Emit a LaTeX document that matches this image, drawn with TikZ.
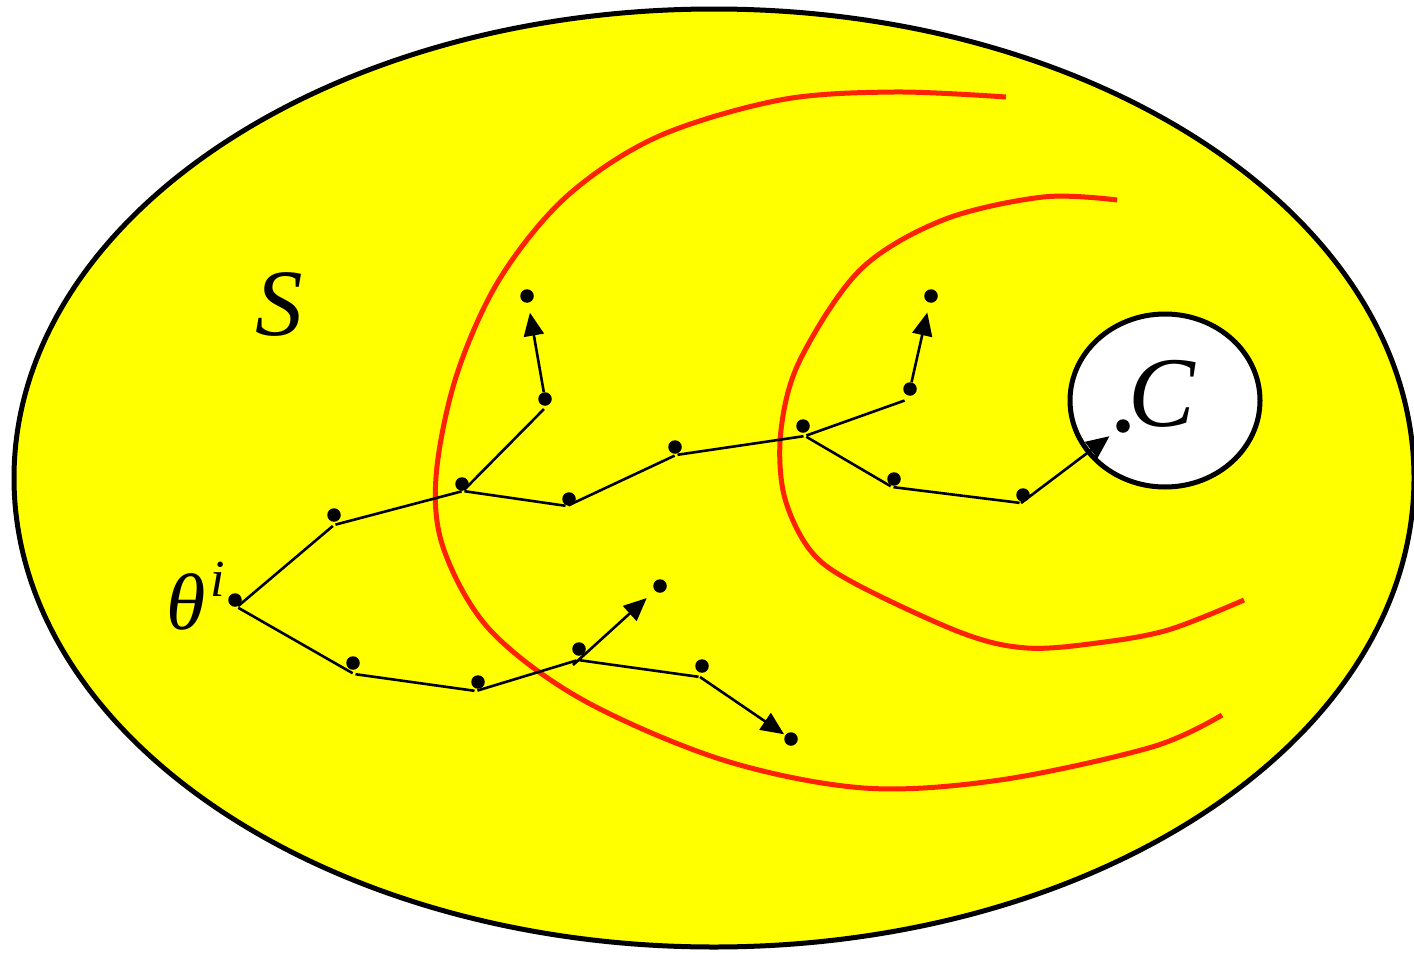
\documentclass[tikz,border=0pt]{standalone}
\usepackage{fontspec}
\setmainfont{Liberation Serif}
\usetikzlibrary{arrows.meta,calc}
\definecolor{fieldyellow}{RGB}{255,255,0}
\definecolor{curvered}{RGB}{255,34,0}
\tikzset{
  dot/.style={circle,fill=black,inner sep=0pt,minimum size=13.5pt},
  seg/.style={line width=2.6pt,shorten <=1.5pt,shorten >=1.5pt},
  arr/.style={line width=2.6pt,-{Triangle[length=23pt,width=20pt]}},
  level/.style={curvered,line width=5pt},
  label/.style={inner sep=0pt}
}
\begin{document}
\begin{tikzpicture}[x=1pt,y=-1pt]
\useasboundingbox (0,0) rectangle (1414,953);
% region S
\filldraw[fill=fieldyellow,draw=black,line width=5pt] (714,478) ellipse [x radius=700,y radius=469];
% target set C
\filldraw[fill=white,draw=black,line width=5pt] (1165,400.5) ellipse [x radius=95,y radius=86.5];
% level curves
\draw[level] plot[smooth,tension=0.55] coordinates {(1006,97) (894,92) (780,100) (657,137) (566,197) (499,280) (456,377) (436,477) (444,550) (490,630) (583,700) (723,760) (864,788) (1000,780) (1152,747) (1222,715)};
\draw[level] plot[smooth,tension=0.55] coordinates {(1117,200) (1043,197) (943,220) (860,270) (800,360) (781,430) (784,495) (810,550) (854,583) (962,633) (1027,648) (1097,643) (1168,630) (1244,600)};
% dots
\node[dot] (T) at (235,600) {};
\node[dot] (A1) at (334,515) {};
\node[dot] (A2) at (462,484) {};
\node[dot] (A3) at (545,399) {};
\node[dot] (A4) at (527,296) {};
\node[dot] (A5) at (569,499) {};
\node[dot] (A6) at (675,447) {};
\node[dot] (A7) at (803,426) {};
\node[dot] (A8) at (910,389) {};
\node[dot] (A9) at (931,296) {};
\node[dot] (A10) at (894,479) {};
\node[dot] (A11) at (1023,495) {};
\node[dot] (A12) at (1123,426) {};
\node[dot] (B1) at (353,663) {};
\node[dot] (B2) at (478,682) {};
\node[dot] (B3) at (579,649) {};
\node[dot] (B4) at (660,586) {};
\node[dot] (B5) at (702,666) {};
\node[dot] (B6) at (791,739) {};
% feet of the path segments
\coordinate (Tf) at (237,607);
\coordinate (A1f) at (334,525);
\coordinate (A2f) at (463,491);
\coordinate (A3f) at (545,408);
\coordinate (A5f) at (567,506);
\coordinate (A6f) at (676,455);
\coordinate (A7f) at (805,436);
\coordinate (A8f) at (906,400);
\coordinate (A10f) at (892,487);
\coordinate (A11f) at (1021,503);
\coordinate (B1f) at (354,674);
\coordinate (B2f) at (476,691);
\coordinate (B3f) at (578,660);
\coordinate (B3a) at (573,665);
\coordinate (B5f) at (700,677);
% segments
\draw[seg] (Tf) -- (A1f);
\draw[seg] (A1f) -- (A2f);
\draw[seg] (A2f) -- (A3f);
\draw[seg] (A2f) -- (A5f);
\draw[seg] (A5f) -- (A6f);
\draw[seg] (A6f) -- (A7f);
\draw[seg] (A7f) -- (A8f);
\draw[seg] (A7f) -- (A10f);
\draw[seg] (A10f) -- (A11f);
\draw[seg] (Tf) -- (B1f);
\draw[seg] (B1f) -- (B2f);
\draw[seg] (B2f) -- (B3f);
\draw[seg] (B3f) -- (B5f);
% arrows
\draw[arr,shorten >=10pt] (A3) -- (A4);
\draw[arr,shorten >=10pt] (A8) -- (A9);
\draw[arr,shorten >=10pt] (A11f) -- (A12);
\draw[arr,shorten >=11pt] (B3a) -- (B4);
\draw[arr,shorten >=1.5pt] (B5f) -- (B6);
% labels
\node[label,font=\fontsize{95}{95}\selectfont\itshape] (S) at (279,305) {S};
\node[label,font=\fontsize{100}{100}\selectfont\itshape,anchor=base west] (C) at (1128,426) {C};
\node[label,font=\fontsize{80}{80}\selectfont\itshape,anchor=base west] (theta) at (166,629) {θ\hspace{5pt}\raisebox{33pt}{\fontsize{52}{52}\selectfont i}};
\end{tikzpicture}
\end{document}
